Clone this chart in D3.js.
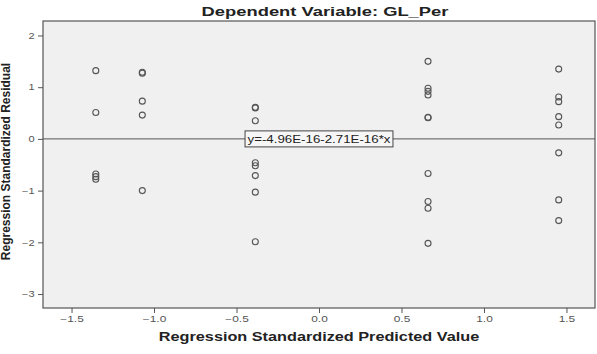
<!DOCTYPE html>
<html>
<head>
<meta charset="utf-8">
<script src="https://cdn.jsdelivr.net/npm/d3@7"></script>
<style>
  body { margin: 0; background: #fff; }
  svg { display: block; font-family: "Liberation Sans", Arial, sans-serif; }
</style>
</head>
<body>
<div id="chart"></div>
<script>
// Predicted value columns (standardized) and the residuals found in each column
const groupX = [-1.353, -1.071, -0.386, 0.661, 1.453];
const groupResiduals = [
    [1.32, 0.51, -0.68, -0.73, -0.78],
    [1.29, 1.27, 0.73, 0.46, -1.0],
    [0.61, 0.60, 0.35, -0.46, -0.52, -0.71, -1.03, -1.99],
    [1.50, 0.98, 0.92, 0.85, 0.42, 0.41, -0.67, -1.21, -1.34, -2.02],
    [1.35, 0.81, 0.72, 0.43, 0.27, -0.27, -1.18, -1.58]
];

const xTicks = [-1.5, -1.0, -0.5, 0.0, 0.5, 1.0, 1.5];
const yTicks = [2, 1, 0, -1, -2, -3];

// Fit line y = a + b*x
const intercept = -4.96e-16;
const slope = -2.71e-16;
const fitLabel = 'y=-4.96E-16-2.71E-16*x';

const titleText = 'Dependent Variable: GL_Per';
const xTitle = 'Regression Standardized Predicted Value';
const yTitle = 'Regression Standardized Residual';

const width = 597, height = 354;
const margin = {top: 21, right: 2, bottom: 46, left: 43};

const points = [];
groupX.forEach((gx, i) => {
    groupResiduals[i].forEach(r => points.push({x: gx, y: r}));
});

const svg = d3.select('#chart').append('svg')
    .attr('width', width)
    .attr('height', height);

const xScale = d3.scaleLinear()
    .domain([-1.673, 1.673])
    .range([margin.left, width - margin.right]);

const yScale = d3.scaleLinear()
    .domain([-3.27, 2.28])
    .range([height - margin.bottom, margin.top]);

// plot background
svg.append('rect')
    .attr('x', margin.left)
    .attr('y', margin.top)
    .attr('width', width - margin.left - margin.right)
    .attr('height', height - margin.top - margin.bottom)
    .attr('fill', '#f0f0f0')
    .attr('stroke', 'none');

// axes
const xAxis = svg.append('g')
    .attr('transform', `translate(0,${height - margin.bottom})`)
    .call(d3.axisBottom(xScale).tickValues(xTicks).tickFormat(d3.format('.1f')).tickSizeOuter(0).tickSize(5));

const yAxis = svg.append('g')
    .attr('transform', `translate(${margin.left},0)`)
    .call(d3.axisLeft(yScale).tickValues(yTicks).tickFormat(d3.format('d')).tickSizeOuter(0).tickSize(5));

[xAxis, yAxis].forEach(ax => {
    ax.select('.domain').remove();
    ax.selectAll('.tick line').style('stroke', '#555');
    ax.selectAll('text')
        .style('fill', '#555')
        .style('font-size', '8.5px')
        .style('font-family', '"Liberation Sans", Arial, sans-serif');
});
// the source picture is stretched sideways, so the labels are too
xAxis.selectAll('text')
    .attr('y', 6)
    .attr('dy', '0.9em')
    .attr('transform', 'scale(1.4,1)');
yAxis.selectAll('text')
    .attr('x', -6.5)
    .attr('transform', 'scale(1.3,1)');

// frame
svg.append('rect')
    .attr('x', margin.left)
    .attr('y', margin.top)
    .attr('width', width - margin.left - margin.right)
    .attr('height', height - margin.top - margin.bottom)
    .attr('fill', 'none')
    .attr('stroke', '#555')
    .attr('stroke-width', 1.2);

// fit line
const x0 = xScale.domain()[0], x1 = xScale.domain()[1];
svg.append('line')
    .attr('x1', xScale(x0))
    .attr('y1', yScale(intercept + slope * x0))
    .attr('x2', xScale(x1))
    .attr('y2', yScale(intercept + slope * x1))
    .attr('stroke', '#555')
    .attr('stroke-width', 1);

// points
svg.append('g').selectAll('circle')
    .data(points)
    .enter()
    .append('circle')
    .attr('cx', d => xScale(d.x))
    .attr('cy', d => yScale(d.y))
    .attr('r', 3)
    .attr('fill', 'none')
    .attr('stroke', '#555')
    .attr('stroke-width', 1.1);

// fit label box
const labelG = svg.append('g')
    .attr('transform', `translate(${xScale(0)},${yScale(intercept)})`);
const labelText = labelG.append('text')
    .attr('text-anchor', 'middle')
    .attr('dy', '0.35em')
    .attr('transform', 'scale(1.21,1)')
    .style('font-size', '11px')
    .style('fill', '#222')
    .text(fitLabel);
const bb = labelText.node().getBBox();
const boxW = bb.width * 1.21 + 5;
labelG.insert('rect', 'text')
    .attr('x', -boxW / 2)
    .attr('y', -8)
    .attr('width', boxW)
    .attr('height', 16)
    .attr('fill', '#f6f6f6')
    .attr('stroke', '#444')
    .attr('stroke-width', 1);

// titles
svg.append('text')
    .attr('transform', 'translate(325,16) scale(1.36,1)')
    .attr('text-anchor', 'middle')
    .style('font-size', '13.5px')
    .style('font-weight', 'bold')
    .style('fill', '#222')
    .text(titleText);

svg.append('text')
    .attr('transform', `translate(${(margin.left + width - margin.right) / 2},341) scale(1.25,1)`)
    .attr('text-anchor', 'middle')
    .style('font-size', '13px')
    .style('font-weight', 'bold')
    .style('fill', '#222')
    .text(xTitle);

svg.append('text')
    .attr('transform', `translate(10,${(margin.top + height - margin.bottom) / 2 - 3}) rotate(-90)`)
    .attr('text-anchor', 'middle')
    .style('font-size', '12px')
    .style('font-weight', 'bold')
    .style('fill', '#222')
    .text(yTitle);
</script>
</body>
</html>
